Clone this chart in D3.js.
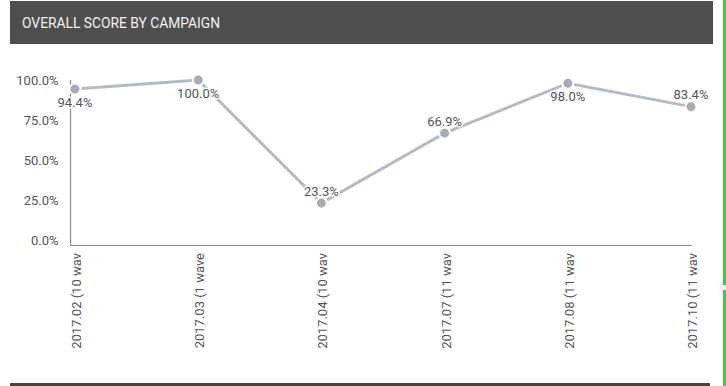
<!DOCTYPE html>
<html>
<head>
<meta charset="utf-8">
<script src="https://cdn.jsdelivr.net/npm/d3@7"></script>
<style>
  body { margin: 0; background: #fff; }
  svg { display: block; font-family: Roboto, "Noto Sans", sans-serif; }
</style>
</head>
<body>
<div class="vis-linechart"></div>
<script>
const categories = ['2017.02 (10 wav', '2017.03 (1 wave', '2017.04 (10 wav', '2017.07 (11 wav', '2017.08 (11 wav', '2017.10 (11 wav'];
const scores = [94.4, 100.0, 23.3, 66.9, 98.0, 83.4];
const labelSide = ['below', 'below', 'above', 'above', 'below', 'above'];
const yTicks = [0, 25, 50, 75, 100];
const title = 'OVERALL SCORE BY CAMPAIGN';

const W = 726, H = 386;
const svg = d3.select('.vis-linechart').append('svg')
    .attr('width', W)
    .attr('height', H);

// header bar
svg.append('rect')
    .attr('x', 10).attr('y', 1)
    .attr('width', 703).attr('height', 43)
    .attr('fill', '#4e4e4e');
svg.append('text')
    .attr('x', 22).attr('y', 28)
    .attr('fill', '#f2f2f2')
    .style('font-size', '15px')
    .attr('textLength', 198)
    .attr('lengthAdjust', 'spacingAndGlyphs')
    .text(title);

// right green edge + bottom rule
svg.append('line').attr('x1', 724.5).attr('x2', 724.5).attr('y1', 0).attr('y2', 285)
    .attr('stroke', '#22e01a').attr('stroke-width', 3);
svg.append('line').attr('x1', 724.5).attr('x2', 724.5).attr('y1', 290).attr('y2', H)
    .attr('stroke', '#22e01a').attr('stroke-width', 3);
svg.append('rect').attr('x', 10).attr('y', 383).attr('width', 700).attr('height', 3)
    .attr('fill', '#444');

const x = d3.scalePoint()
    .domain(categories)
    .range([75, 691]);
const y = d3.scaleLinear()
    .domain([0, 100])
    .range([240.5, 80]);

const g = svg.append('g');

// y tick labels
g.selectAll('.ytick')
    .data(yTicks)
    .enter().append('text')
    .attr('class', 'ytick')
    .attr('x', 58.5)
    .attr('y', d => y(d))
    .attr('dy', '0.35em')
    .attr('text-anchor', 'end')
    .attr('fill', '#555')
    .style('font-size', '13px')
    .text(d => d.toFixed(1) + '%');

// axis lines
g.append('line').attr('x1', 70.5).attr('x2', 70.5).attr('y1', 80).attr('y2', 245.5)
    .attr('stroke', '#8a8a8a').attr('stroke-width', 1.2);
g.append('line').attr('x1', 70).attr('x2', 692).attr('y1', 245.5).attr('y2', 245.5)
    .attr('stroke', '#8a8a8a').attr('stroke-width', 1.2);

// x labels
g.selectAll('.xlabel')
    .data(categories)
    .enter().append('text')
    .attr('class', 'xlabel')
    .attr('transform', d => 'translate(' + (x(d) + 1.5) + ',253) rotate(-90)')
    .attr('dy', '0.35em')
    .attr('text-anchor', 'end')
    .attr('fill', '#555')
    .style('font-size', '13px')
    .text(d => d);

const data = categories.map((c, i) => ({ cat: c, v: scores[i], side: labelSide[i] }));

// line
g.append('path')
    .datum(data)
    .attr('fill', 'none')
    .attr('stroke', '#b3bbc5')
    .attr('stroke-width', 3)
    .attr('d', d3.line()
        .x(d => x(d.cat))
        .y(d => y(d.v)));

// markers
g.selectAll('.dot')
    .data(data)
    .enter().append('circle')
    .attr('class', 'dot')
    .attr('cx', d => x(d.cat))
    .attr('cy', d => y(d.v))
    .attr('r', 5.5)
    .attr('fill', '#a3acb8')
    .attr('stroke', '#fff')
    .attr('stroke-width', 2);

// value labels
g.selectAll('.vlabel')
    .data(data)
    .enter().append('text')
    .attr('class', 'vlabel')
    .attr('x', d => x(d.cat))
    .attr('y', d => y(d.v) + (d.side === 'below' ? 18 : -7.5))
    .attr('text-anchor', 'middle')
    .attr('fill', '#555')
    .attr('stroke', '#fff')
    .attr('stroke-width', 3)
    .attr('stroke-linejoin', 'round')
    .style('paint-order', 'stroke')
    .style('font-size', '13px')
    .text(d => d.v.toFixed(1) + '%');
</script>
</body>
</html>
